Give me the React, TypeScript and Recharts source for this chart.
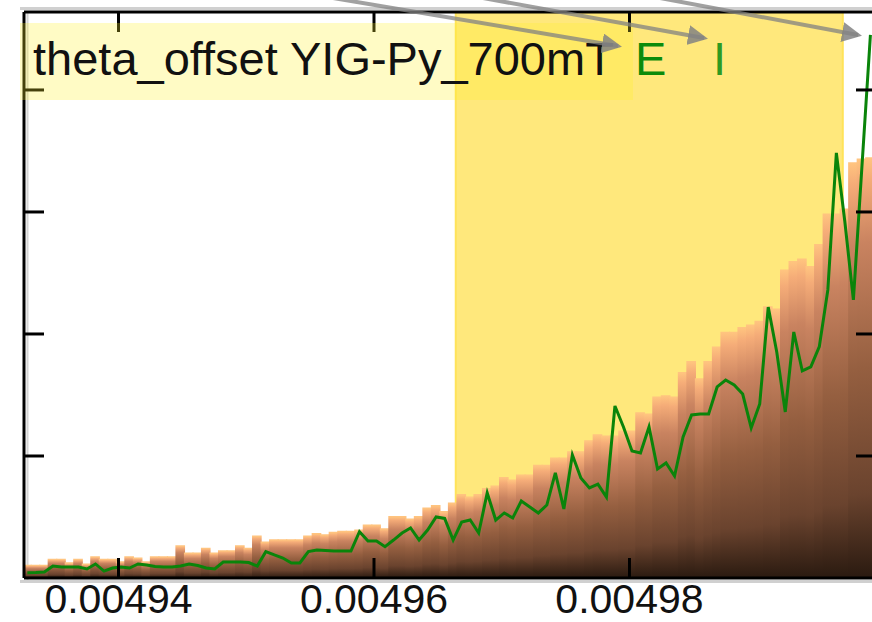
import React from 'react'
import {
  ComposedChart,
  Bar,
  Line,
  XAxis,
  YAxis,
  ReferenceArea,
} from 'recharts'

// histogram bins: 30 bins per 0.00002
const BIN_LEFT = 0.00493253
const BIN_WIDTH = 0.00002 / 30

const BAR_COUNTS = [
  10, 10, 10, 15, 15, 12, 15, 11, 17, 15,
  15, 13, 17, 16, 13, 17, 17, 17, 26, 20,
  20, 24, 20, 22, 22, 26, 24, 34, 29, 31,
  31, 31, 31, 34, 36, 35, 37, 38, 38, 39,
  43, 43, 40, 50, 50, 48, 50, 57, 59, 54,
  61, 68, 66, 68, 73, 75, 82, 80, 84, 84,
  92, 92, 98, 98, 103, 103, 112, 117, 116, 116,
  120, 120, 135, 134, 148, 149, 148, 168, 177, 163,
  177, 189, 201, 201, 205, 207, 210, 222, 220, 252,
  259, 261, 255, 273, 298, 298, 302, 340, 343, 344,
]

const LINE_VALUES = [
  4.4, 4.5, 4.9, 9.8, 9.0, 9.0, 9.0, 7.4, 11.5, 5.7,
  8.2, 9.0, 8.2, 11.5, 10.7, 9.4, 9.0, 9.0, 9.8, 11.5,
  10.2, 8.2, 7.4, 13.1, 13.1, 13.1, 12.7, 9.8, 21.6, 18.9,
  16.4, 12.3, 12.3, 21.6, 23.0, 22.5, 22.1, 22.1, 22.1, 38.0,
  30.3, 30.3, 25.7, 31.1, 36.9, 41.0, 31.1, 39.3, 50.0, 48.8,
  31.1, 45.9, 47.5, 36.9, 69.7, 47.5, 53.3, 49.2, 63.1, 58.2,
  53.3, 59.8, 86.1, 56.6, 100.8, 82.0, 73.8, 77.0, 66.4, 141.0,
  123.8, 104.1, 102.5, 123.8, 89.3, 94.3, 83.6, 115.6, 133.6, 134.4,
  134.4, 156.6, 162.3, 158.2, 150.8, 123.0, 142.6, 222.1, 185.2, 136.1,
  201.6, 169.7, 173.0, 189.7, 236.1, 348.4, 291.8, 227.9, 336.9, 445.1,
]

const X_DOMAIN = [0.0049326, 0.0049993]
const X_TICKS = [0.00494, 0.00496, 0.00498]
const Y_DOMAIN = [0, 463.9]
const Y_TICKS = [100, 200, 300, 400]
const HIGHLIGHT = [0.0049664, 0.0049967]

const data = BAR_COUNTS.map((count, i) => ({
  x: BIN_LEFT + (i + 0.5) * BIN_WIDTH,
  count,
  value: LINE_VALUES[i],
}))

const FONT = '"Liberation Sans", Arial, sans-serif'
const axisStroke = { stroke: '#000', strokeWidth: 3 }
const blank = () => ''

export default function App() {
  return (
    <div
      style={{
        position: 'absolute',
        left: 0,
        top: 0,
        width: 872,
        height: 622,
        overflow: 'hidden',
        background: '#fff',
        fontFamily: FONT,
      }}
    >
      {/* soft grey shadow along the frame */}
      <svg
        width={872}
        height={622}
        style={{ position: 'absolute', left: 0, top: 0 }}
      >
        <line x1={20} y1={8.5} x2={872} y2={8.5} stroke="#d0d0d0" strokeWidth={3} />
        <line x1={27.5} y1={12} x2={27.5} y2={580} stroke="#d4d4d4" strokeWidth={2} />
        <line x1={20} y1={581.5} x2={872} y2={581.5} stroke="#d0d0d0" strokeWidth={3} />
      </svg>

      <div style={{ position: 'absolute', left: 0, top: 0 }}>
        <ComposedChart
          width={900}
          height={622}
          data={data}
          margin={{ top: 11, right: 23, bottom: 0, left: 23 }}
          barCategoryGap={0}
          barGap={0}
        >
          <defs>
            <linearGradient id="barGrad" x1="0" y1="0" x2="0" y2="1">
              <stop offset="0" stopColor="#FFC47F" />
              <stop offset="0.05" stopColor="#F5AC78" />
              <stop offset="0.2" stopColor="#C98360" />
              <stop offset="0.5" stopColor="#955F40" />
              <stop offset="0.8" stopColor="#6A432E" />
              <stop offset="1" stopColor="#2A1A10" />
            </linearGradient>
          </defs>

          <ReferenceArea
            xAxisId="top"
            yAxisId="left"
            x1={HIGHLIGHT[0]}
            x2={HIGHLIGHT[1]}
            fill="#FFE87C"
            fillOpacity={1}
            stroke="#FFE35A"
            strokeWidth={2}
          />

          <Bar
            xAxisId="top"
            yAxisId="left"
            dataKey="count"
            fill="url(#barGrad)"
            stroke="url(#barGrad)"
            strokeWidth={2}
            barSize={10}
            isAnimationActive={false}
          />
          <Line
            xAxisId="bottom"
            yAxisId="right"
            dataKey="value"
            type="linear"
            stroke="#0A840A"
            strokeWidth={3}
            dot={false}
            isAnimationActive={false}
          />

          <XAxis
            xAxisId="bottom"
            dataKey="x"
            type="number"
            domain={X_DOMAIN}
            allowDataOverflow
            ticks={X_TICKS}
            interval={0}
            tickFormatter={(v: number) => v.toFixed(5)}
            height={44}
            tickSize={-20}
            tickMargin={26}
            axisLine={axisStroke}
            tickLine={axisStroke}
            tick={{ fill: '#111', fontSize: 41, fontFamily: FONT }}
          />
          <XAxis
            xAxisId="top"
            orientation="top"
            dataKey="x"
            type="number"
            domain={X_DOMAIN}
            allowDataOverflow
            ticks={X_TICKS}
            interval={0}
            tickFormatter={blank}
            height={1}
            tickSize={-20}
            axisLine={axisStroke}
            tickLine={axisStroke}
          />
          <YAxis
            yAxisId="left"
            type="number"
            domain={Y_DOMAIN}
            allowDataOverflow
            ticks={Y_TICKS}
            interval={0}
            tickFormatter={blank}
            width={1}
            tickSize={-20}
            axisLine={axisStroke}
            tickLine={axisStroke}
          />
          <YAxis
            yAxisId="right"
            orientation="right"
            type="number"
            domain={Y_DOMAIN}
            allowDataOverflow
            ticks={Y_TICKS}
            interval={0}
            tickFormatter={blank}
            width={1}
            tickSize={-20}
            axisLine={axisStroke}
            tickLine={axisStroke}
          />
        </ComposedChart>
      </div>

      {/* label box and annotation arrows */}
      <svg
        width={872}
        height={622}
        style={{ position: 'absolute', left: 0, top: 0, pointerEvents: 'none' }}
      >
        <defs>
          <marker
            id="arrowHead"
            viewBox="0 0 10 10"
            refX="8"
            refY="5"
            markerWidth="5"
            markerHeight="5"
            orient="auto"
          >
            <path d="M0,0 L10,5 L0,10 z" fill="rgba(130,130,130,0.85)" />
          </marker>
        </defs>
        <rect x={20} y={23} width={613} height={77} fill="rgba(255,240,40,0.27)" />
        <text x={33} y={75} fontSize={47} fontFamily={FONT} fill="#111">
          theta_offset YIG-Py_700mT
        </text>
        <text x={635} y={75} fontSize={47} fontFamily={FONT} fill="#0B8B0B">
          E
        </text>
        <text x={713} y={75} fontSize={47} fontFamily={FONT} fill="#2E9A22">
          I
        </text>
        <g stroke="rgba(130,130,130,0.75)" strokeWidth={4} markerEnd="url(#arrowHead)">
          <line x1={333} y1={-2} x2={618} y2={46} />
          <line x1={483} y1={-2} x2={704} y2={38} />
          <line x1={660} y1={-2} x2={858} y2={35} />
        </g>
      </svg>
    </div>
  )
}
